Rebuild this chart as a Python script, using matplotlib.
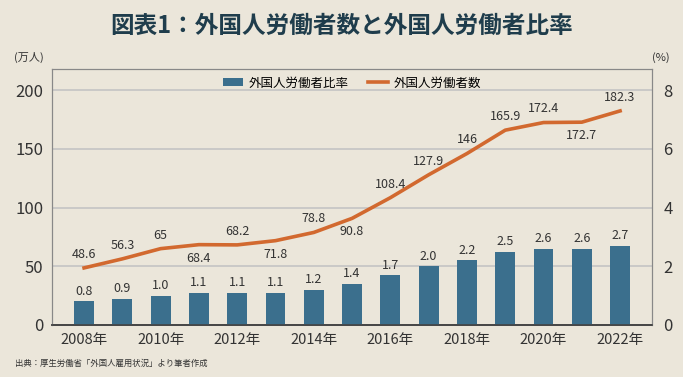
import numpy as np
import matplotlib.pyplot as plt

plt.rcParams['font.family'] = ['Noto Sans CJK JP', 'DejaVu Sans']

years = list(range(2008, 2023))
workers = [48.6, 56.3, 65, 68.4, 68.2, 71.8, 78.8, 90.8, 108.4, 127.9, 146, 165.9, 172.4, 172.7, 182.3]
ratio = [0.8, 0.9, 1.0, 1.1, 1.1, 1.1, 1.2, 1.4, 1.7, 2.0, 2.2, 2.5, 2.6, 2.6, 2.7]
worker_labels = ['48.6', '56.3', '65', '68.4', '68.2', '71.8', '78.8', '90.8', '108.4',
                 '127.9', '146', '165.9', '172.4', '172.7', '182.3']
label_below = [False, False, False, True, False, True, False, True, False,
               False, False, False, False, True, False]
xtick_years = [2008, 2010, 2012, 2014, 2016, 2018, 2020, 2022]

bg = '#ebe6da'
bar_color = '#3b6f8d'
line_color = '#d2692f'
text_color = '#333333'

fig = plt.figure(figsize=(6.83, 3.77), dpi=100, facecolor=bg)
ax = fig.add_axes([0.076, 0.138, 0.879, 0.679])
ax2 = ax.twinx()

ax2.set_zorder(1)
ax.set_zorder(2)
ax.patch.set_visible(False)
ax2.patch.set_facecolor('white')

# bars on right axis
bars = ax2.bar(years, ratio, width=0.52, color=bar_color, zorder=3, label='外国人労働者比率')
for x, v in zip(years, ratio):
    ax2.text(x, v + 0.12, f'{v:.1f}', ha='center', va='bottom', fontsize=9, color=text_color)

# line on left axis
line, = ax.plot(years, workers, color=line_color, lw=2.6, zorder=4, label='外国人労働者数')
for x, v, s, below in zip(years, workers, worker_labels, label_below):
    if below:
        ax.text(x, v - 6, s, ha='center', va='top', fontsize=9, color=text_color, zorder=5)
    else:
        ax.text(x, v + 6, s, ha='center', va='bottom', fontsize=9, color=text_color, zorder=5)

ax.set_xlim(2007.16, 2022.84)
ax.set_ylim(0, 218)
ax2.set_ylim(0, 8.72)
ax.set_yticks([0, 50, 100, 150, 200])
ax2.set_yticks([0, 2, 4, 6, 8])
ax.set_xticks(xtick_years)
ax.set_xticklabels([f'{y}年' for y in xtick_years])

for a in (ax, ax2):
    a.tick_params(length=0, labelsize=12, colors=text_color)
    for side in ('left', 'right', 'top'):
        a.spines[side].set_color('#888888')
        a.spines[side].set_linewidth(0.8)
    a.spines['bottom'].set_color('#444444')
    a.spines['bottom'].set_linewidth(1.2)
ax.tick_params(axis='x', labelsize=10.5, pad=6)
ax.tick_params(axis='y', pad=6)
ax2.tick_params(axis='y', pad=8)

for yv in [50, 100, 150, 200]:
    ax2.axhline(yv / 25, color='#c4c4c4', lw=1.2, zorder=1)

ax.legend(handles=[bars, line], loc='upper center', ncol=2, frameon=False,
          fontsize=9, bbox_to_anchor=(0.5, 1.015), handlelength=1.6, columnspacing=1.5,
          handletextpad=0.5)

fig.text(0.5, 0.93, '図表1：外国人労働者数と外国人労働者比率', ha='center', va='center',
         fontsize=17, fontweight='bold', color='#1f3d4c')
fig.text(0.042, 0.848, '(万人)', ha='center', va='center', fontsize=8, color=text_color)
fig.text(0.968, 0.848, '(%)', ha='center', va='center', fontsize=8, color=text_color)
fig.text(0.022, 0.035, '出典：厚生労働省「外国人雇用状況」より筆者作成', ha='left', va='center',
         fontsize=6, color=text_color)

fig.savefig('out.png', dpi=100, facecolor=bg)
